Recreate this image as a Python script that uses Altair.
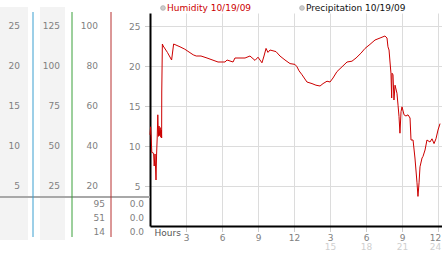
import altair as alt
import pandas as pd

# ---- data -------------------------------------------------------------
hours = [0.0, 0.05, 0.1, 0.15, 0.3, 0.35, 0.42, 0.5, 0.55, 0.6, 0.65, 0.7, 0.75,
         0.8, 0.85, 0.9, 0.95, 0.97, 0.98, 1.03, 1.1, 1.45, 1.8, 1.97, 2.5, 2.9,
         3.6, 3.85, 4.25, 4.75, 5.67, 6.25, 6.42, 6.92, 7.08, 7.92, 8.33, 8.75,
         9.0, 9.33, 9.5, 9.67, 9.83, 10.0, 10.5, 10.83, 11.25, 11.67, 12.08,
         12.25, 12.42, 12.67, 13.08, 13.5, 13.83, 14.17, 14.42, 14.75, 15.0,
         15.25, 15.58, 16.0, 16.42, 16.83, 17.17, 17.58, 17.92, 18.33, 18.75,
         19.17, 19.58, 19.75, 19.83, 19.92, 20.0, 20.08, 20.14, 20.17, 20.25,
         20.33, 20.42, 20.58, 20.67, 20.75, 20.83, 20.92, 21.0, 21.17, 21.33,
         21.5, 21.67, 21.75, 21.92, 22.08, 22.25, 22.33, 22.42, 22.5, 22.67,
         22.75, 22.92, 23.08, 23.33, 23.5, 23.67, 23.83, 24.0, 24.17]
humidity = [11.4, 12.4, 11.0, 9.2, 9.1, 7.5, 9.0, 5.75, 9.0, 11.0, 13.9, 11.2, 12.5,
            11.3, 12.3, 11.1, 12.0, 11.0, 16.75, 22.75, 22.5, 21.7, 20.75, 22.75,
            22.4, 22.1, 21.4, 21.25, 21.25, 21.0, 20.5, 20.5, 20.75, 20.5, 21.0,
            21.0, 21.25, 20.7, 21.1, 20.4, 21.25, 22.2, 21.7, 22.0, 21.8, 21.25,
            20.75, 20.3, 20.2, 19.9, 19.4, 18.9, 18.0, 17.8, 17.6, 17.5, 17.8,
            18.1, 18.0, 18.5, 19.3, 19.9, 20.5, 20.6, 21.0, 21.6, 22.2, 22.7,
            23.25, 23.5, 23.75, 23.5, 22.4, 22.0, 20.5, 19.1, 16.0, 19.1, 18.9,
            15.75, 17.6, 16.6, 15.1, 13.7, 11.6, 14.3, 14.9, 13.9, 13.75, 13.9,
            13.5, 10.75, 10.75, 8.5, 5.4, 3.7, 5.4, 7.4, 8.5, 8.7, 9.5, 10.75,
            10.5, 10.9, 10.3, 10.9, 12.0, 12.8]

col1_ticks = [5, 10, 15, 20, 25]
col2_ticks = [25, 50, 75, 100, 125]
col3_ticks = [20, 40, 60, 80, 100]
main_ticks = [5, 10, 15, 20, 25]
hour_ticks = [3, 6, 9, 12, 15, 18, 21, 24]
hour_ticks_pm = [15, 18, 21, 24]

reading_rows = [0, 1, 2]
col3_readings = ["95", "51", "14"]
col4_readings = ["0.0", "0.0", "0.0"]

legend_labels = ["Humidity 10/19/09", "Precipitation 10/19/09"]

FONT = "DejaVu Sans"
GRAY = "#808080"
RED = "#cc0000"

df = pd.DataFrame({"hour": hours, "humidity": humidity})

X_DOMAIN = [0, 24.333]
Y_MAIN = [0, 26.625]

# ---- decorative background of the left panel ----------------------------
one = pd.DataFrame({"k": [0]})
band1 = alt.Chart(one).mark_rect(color="#f3f3f3").encode(
    x=alt.value(-150), x2=alt.value(-122), y=alt.value(-6), y2=alt.value(227))
band2 = alt.Chart(one).mark_rect(color="#f3f3f3").encode(
    x=alt.value(-110), x2=alt.value(-85), y=alt.value(-6), y2=alt.value(227))
hline = alt.Chart(one).mark_rule(color="#a8a8a8", strokeWidth=2).encode(
    x=alt.value(-150), x2=alt.value(0), y=alt.value(184))
blue = alt.Chart(one).mark_rule(color="#3a9fd0", strokeWidth=1).encode(
    x=alt.value(-117), y=alt.value(-1), y2=alt.value(224))
green = alt.Chart(one).mark_rule(color="#3aa03a", strokeWidth=1).encode(
    x=alt.value(-78), y=alt.value(-1), y2=alt.value(224))
red = alt.Chart(one).mark_rule(color="#b83030", strokeWidth=1).encode(
    x=alt.value(-39), y=alt.value(-1), y2=alt.value(224))

# ---- main line -------------------------------------------------------------
line = alt.Chart(df).mark_line(color=RED, strokeWidth=1, interpolate="linear").encode(
    x=alt.X("hour:Q", scale=alt.Scale(domain=X_DOMAIN, nice=False, zero=False),
            axis=alt.Axis(values=hour_ticks, orient="bottom",
                          labelExpr="datum.value > 12 ? '' + (datum.value - 12) : datum.label",
                          labelOffset={"condition": {"test": "datum.value == 24", "value": -3}, "value": 0},
                          domainColor="#000000", domainWidth=2,
                          tickColor="#999999", tickSize=6, tickDash=[1, 1],
                          labelPadding=1, labelColor=GRAY,
                          grid=True, gridColor="#dcdcdc",
                          title="Hours", titleX=4, titleY=6, titleAlign="left",
                          titleBaseline="middle", titleAnchor="start",
                          titleFontWeight="normal", titleFontSize=9,
                          titleColor="#555555", titleFont=FONT)),
    y=alt.Y("humidity:Q", scale=alt.Scale(domain=Y_MAIN, nice=False, zero=False),
            axis=alt.Axis(values=main_ticks, orient="left", title=None,
                          domainColor="#000000", domainWidth=2,
                          tickColor="#999999", tickSize=5, tickDash=[1, 1],
                          labelPadding=5, labelColor=GRAY,
                          grid=True, gridColor="#dcdcdc")),
)

# second row of hour labels (15..24)
pm_axis = alt.Chart(pd.DataFrame({"h": hour_ticks_pm})).mark_point(opacity=0).encode(
    x=alt.X("h:Q", scale=alt.Scale(domain=X_DOMAIN, nice=False, zero=False),
            axis=alt.Axis(values=hour_ticks_pm, orient="bottom", offset=9,
                          labelOffset={"condition": {"test": "datum.value == 24", "value": -3}, "value": 0},
                          domain=False, ticks=False, grid=False, labelPadding=7,
                          labelColor="#cfcfcf", title=None)),
)

# extra left scales: labels placed through their own y scales
def side_labels(ticks, domain, xpos):
    return alt.Chart(pd.DataFrame({"v": ticks})).mark_text(
        align="right", baseline="middle", font=FONT, fontSize=9, color=GRAY).encode(
        x=alt.value(xpos),
        y=alt.Y("v:Q", scale=alt.Scale(domain=domain, nice=False, zero=False), axis=None),
        text=alt.Text("v:Q", format="d"))

ax3 = side_labels(col3_ticks, [0, 106.5], -52)
ax2 = side_labels(col2_ticks, [0, 133.125], -90)
ax1 = side_labels(col1_ticks, [0, 26.625], -130)

# readings below the grey line
rd = pd.DataFrame({"row": reading_rows, "c3": col3_readings, "c4": col4_readings})
rows_y = alt.Y("row:O", axis=None, scale=alt.Scale(type="point", range=[191, 219], padding=0))
txt3 = alt.Chart(rd).mark_text(align="right", baseline="middle", font=FONT,
                               fontSize=9, color=GRAY).encode(
    x=alt.value(-45), y=rows_y, text="c3:N")
txt4 = alt.Chart(rd).mark_text(align="right", baseline="middle", font=FONT,
                               fontSize=9, color=GRAY).encode(
    x=alt.value(-6), y=rows_y, text="c4:N")

# legend
leg = pd.DataFrame({"label": legend_labels})
def legend_item(label, color, x):
    d = leg[leg["label"] == label]
    dot = alt.Chart(d).mark_point(filled=True, size=22, color="#b8b8b8",
                                  stroke="#8a8a8a", strokeWidth=0.8).encode(
        x=alt.value(x), y=alt.value(-5))
    t = alt.Chart(d).mark_text(align="left", baseline="middle", font=FONT,
                               fontSize=9, color=color).encode(
        x=alt.value(x + 4), y=alt.value(-5), text="label:N")
    return dot + t

leg1 = legend_item(legend_labels[0], RED, 13)
leg2 = legend_item(legend_labels[1], "#111111", 152)

chart = alt.layer(
    band1, band2, hline, blue, green, red,
    line, pm_axis, ax3, ax2, ax1, txt3, txt4, leg1, leg2,
).resolve_scale(y="independent").resolve_axis(x="independent").properties(
    width=292, height=213,
    autosize=alt.AutoSizeParams(type="none"),
    padding={"left": 150, "top": 13, "right": 0, "bottom": 27},
).configure_view(stroke=None).configure_axis(
    labelFont=FONT, labelFontSize=9, titleFont=FONT,
)

chart.save("out.html", embed_options={"renderer": "svg", "actions": False})
